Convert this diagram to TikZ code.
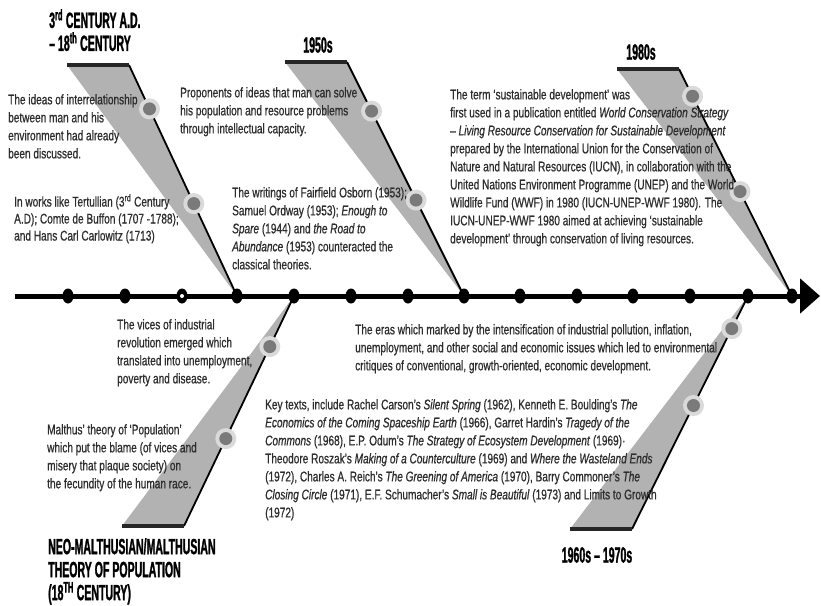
\documentclass[tikz,border=0pt]{standalone}
\usepackage{fontspec}
\setmainfont{Liberation Sans}[FakeStretch=0.72,FakeBold=0.7]
\newfontfamily\headfont{Liberation Sans}[FakeStretch=0.48,FakeBold=1.2]
\usetikzlibrary{calc,shapes.geometric,arrows.meta}

\definecolor{bonegray}{RGB}{178,178,178}
\definecolor{ringgray}{RGB}{218,218,218}
\definecolor{coregray}{RGB}{122,122,122}
\definecolor{txtgray}{RGB}{45,45,45}

\tikzset{
  bone/.style={fill=bonegray},
  boneline/.style={line width=1.8pt,black},
  headbar/.style={line width=3.6pt,black!85},
  ring/.style={circle,fill=ringgray,minimum size=21pt,inner sep=0pt},
  core/.style={circle,fill=coregray,minimum size=13pt,inner sep=0pt},
  tick/.style={ellipse,fill=black,minimum width=11pt,minimum height=15pt,inner sep=0pt},
  note/.style={align=left,anchor=north west,inner sep=0pt,text=txtgray,
    font=\fontsize{14}{18}\selectfont},
  head/.style={inner sep=0pt,font=\headfont\bfseries\fontsize{22}{23}\selectfont}
}

\begin{document}
\begin{tikzpicture}[x=1pt,y=-1pt]
\useasboundingbox (0,0) rectangle (821,605);

% bones
\foreach \n/\hx/\hy/\fx/\p/\q in {a/67/65/237/0.19/0.60, b/285/62/464/0.21/0.59,
  c/617/69/792/0.12/0.54, d/122/526/294/0.38/0.78, e/570/529/748/0.53/0.86}
{
  \coordinate (\n1) at (\hx,\hy);
  \coordinate (\n2) at (\hx+62,\hy);
  \coordinate (\n3) at (\fx,296);
  \fill[bone] (\n1) -- (\n2) -- (\n3) -- cycle;
  \draw[boneline] (\n2) -- (\n3);
  \draw[headbar] (\n1) -- (\n2);
  \node[ring] (\n r1) at ($(\n2)!\p!(\n3)$) {};
  \node[core] (\n c1) at (\n r1) {};
  \node[ring] (\n r2) at ($(\n2)!\q!(\n3)$) {};
  \node[core] (\n c2) at (\n r2) {};
}

% time line
\coordinate (start) at (15,296);
\coordinate (tip) at (820,296);
\draw[line width=5pt,-{Triangle[length=20pt,width=34pt]}] (start) -- (tip);
\foreach \x [count=\i] in {68,125,237,294,351,408,464,520,577,633,690,748,792}
  \node[tick] (dot\i) at (\x,296) {};
\node[tick] (hollow) at (182,296) {};
\node[circle,fill=white,minimum size=4pt,inner sep=0pt] (hole) at (hollow) {};

% eras
\node[head,anchor=north west,align=left] (era1) at (49,9)
  {3\textsuperscript{rd} CENTURY A.D.\\– 18\textsuperscript{th} CENTURY};
\node[head] (era2) at (318,45) {1950s};
\node[head] (era3) at (641,52) {1980s};
\node[head] (era4) at (597,555) {1960s – 1970s};
\node[head,anchor=north west,align=left] (era5) at (48,538)
  {NEO-MALTHUSIAN/MALTHUSIAN\\THEORY OF POPULATION\\(18\textsuperscript{TH} CENTURY)};

% notes
\node[note] (ideas) at (8,94) {The ideas of interrelationship\\between man and his\\environment had already\\been discussed.};
\node[note,font=\fontsize{14}{17}\selectfont] (works) at (14,194)
  {In works like Tertullian (3\textsuperscript{rd} Century\\A.D); Comte de Buffon (1707 -1788);\\and Hans Carl Carlowitz (1713)};
\node[note] (solve) at (180,87) {Proponents of ideas that man can solve\\his population and resource problems\\through intellectual capacity.};
\node[note] (osborn) at (232,187) {The writings of Fairfield Osborn (1953);\\Samuel Ordway (1953); \textit{Enough to}\\\textit{Spare} (1944) and \textit{the Road to}\\\textit{Abundance} (1953) counteracted the\\classical theories.};
\node[note] (term) at (450,89) {The term ‘sustainable development’ was\\first used in a publication entitled \textit{World Conservation Strategy}\\– \textit{Living Resource Conservation for Sustainable Development}\\prepared by the International Union for the Conservation of\\Nature and Natural Resources (IUCN), in collaboration with the\\United Nations Environment Programme (UNEP) and the World\\Wildlife Fund (WWF) in 1980 (IUCN-UNEP-WWF 1980). The\\IUCN-UNEP-WWF 1980 aimed at achieving ‘sustainable\\development’ through conservation of living resources.};
\node[note] (vices) at (117,319) {The vices of industrial\\revolution emerged which\\translated into unemployment,\\poverty and disease.};
\node[note] (eras) at (355,324) {The eras which marked by the intensification of industrial pollution, inflation,\\unemployment, and other social and economic issues which led to environmental\\critiques of conventional, growth-oriented, economic development.};
\node[note] (malthus) at (47,424) {Malthus’ theory of ‘Population’\\which put the blame (of vices and\\misery that plaque society) on\\the fecundity of the human race.};
\node[note] (keytexts) at (265,399) {Key texts, include Rachel Carson’s \textit{Silent Spring} (1962), Kenneth E. Boulding’s \textit{The}\\\textit{Economics of the Coming Spaceship Earth} (1966), Garret Hardin’s \textit{Tragedy of the}\\\textit{Commons} (1968), E.P. Odum’s \textit{The Strategy of Ecosystem Development} (1969)·\\Theodore Roszak’s \textit{Making of a Counterculture} (1969) and \textit{Where the Wasteland Ends}\\(1972), Charles A. Reich’s \textit{The Greening of America} (1970), Barry Commoner’s \textit{The}\\\textit{Closing Circle} (1971), E.F. Schumacher’s \textit{Small is Beautiful} (1973) and Limits to Growth\\(1972)};
\end{tikzpicture}
\end{document}
